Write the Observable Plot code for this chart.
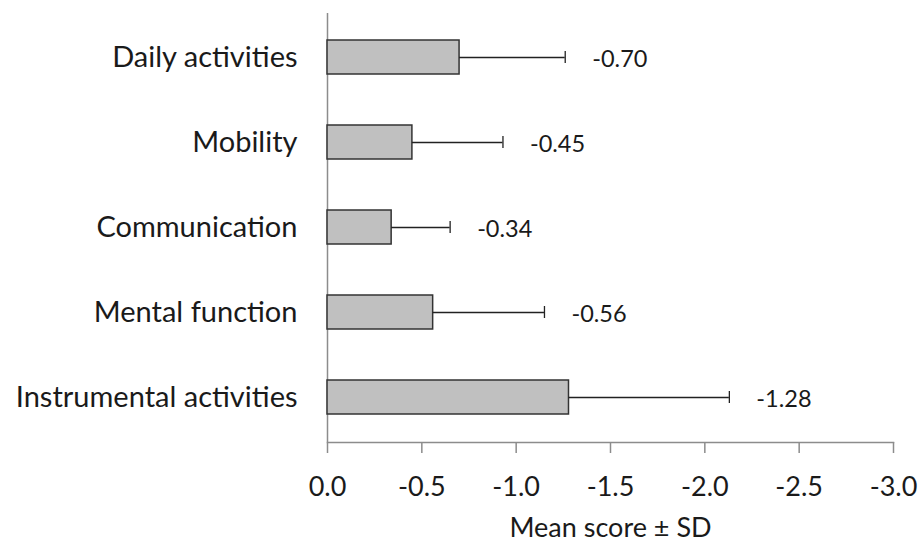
<!DOCTYPE html>
<html><head><meta charset="utf-8">
<script src="https://cdn.jsdelivr.net/npm/d3@7"></script>
<script src="https://cdn.jsdelivr.net/npm/@observablehq/plot@0.6"></script>
<style>body{margin:0;background:#fff}</style>
</head><body><div id="chart"></div>
<script>
const categories = ["Daily activities","Mobility","Communication","Mental function","Instrumental activities"];
const means = [-0.70,-0.45,-0.34,-0.56,-1.28];
const sds = [0.56,0.48,0.31,0.59,0.85];
const valueLabels = ["-0.70","-0.45","-0.34","-0.56","-1.28"];
const xTicks = [0,-0.5,-1,-1.5,-2,-2.5,-3];
const xTickLabels = ["0.0","-0.5","-1.0","-1.5","-2.0","-2.5","-3.0"];
const xTitle = "Mean score ± SD";

const data = categories.map((c,i)=>({category:c, mean:means[i], end:means[i]-sds[i], label:valueLabels[i]}));

const plot = Plot.plot({
  width: 921, height: 547,
  marginLeft: 327, marginRight: 28, marginTop: 13, marginBottom: 105,
  style: {fontFamily: "Lato, sans-serif", background: "white", color: "#1a1a1a"},
  x: {domain: [0,-3]},
  y: {domain: categories, paddingInner: 0.6, paddingOuter: 0.3},
  marks: [
    Plot.frame({anchor: "bottom", stroke: "#8c8c8c", strokeWidth: 1.5}),
    Plot.ruleX([0], {stroke: "#8c8c8c", strokeWidth: 1.5}),
    Plot.barX(data, {x: "mean", y: "category", fill: "#c0c0c0", stroke: "#333", strokeWidth: 1.5}),
    Plot.ruleY(data, {y: "category", x1: "mean", x2: "end", stroke: "#222", strokeWidth: 1.3}),
    Plot.tickX(data, {x: "end", y: "category", stroke: "#222", strokeWidth: 1.3, insetTop: 11, insetBottom: 11}),
    Plot.text(data, {x: "end", y: "category", text: "label", textAnchor: "start", dx: 27, dy: 2, fontSize: 23.5, fill: "#1a1a1a"}),
    Plot.axisY({tickSize: 0, tickPadding: 30, fontSize: 29, label: null, fill: "#1a1a1a"}),
    Plot.axisX({ticks: xTicks, tickFormat: d => xTickLabels[xTicks.indexOf(d)], tickSize: 11, tickPadding: 23, stroke: "#8c8c8c", strokeWidth: 1.5, fontSize: 27, fill: "#1a1a1a", label: null}),
    Plot.text([xTitle], {frameAnchor: "bottom", dy: 94, fontSize: 27, fill: "#1a1a1a"})
  ]
});
document.getElementById("chart").appendChild(plot);
</script>
</body></html>
